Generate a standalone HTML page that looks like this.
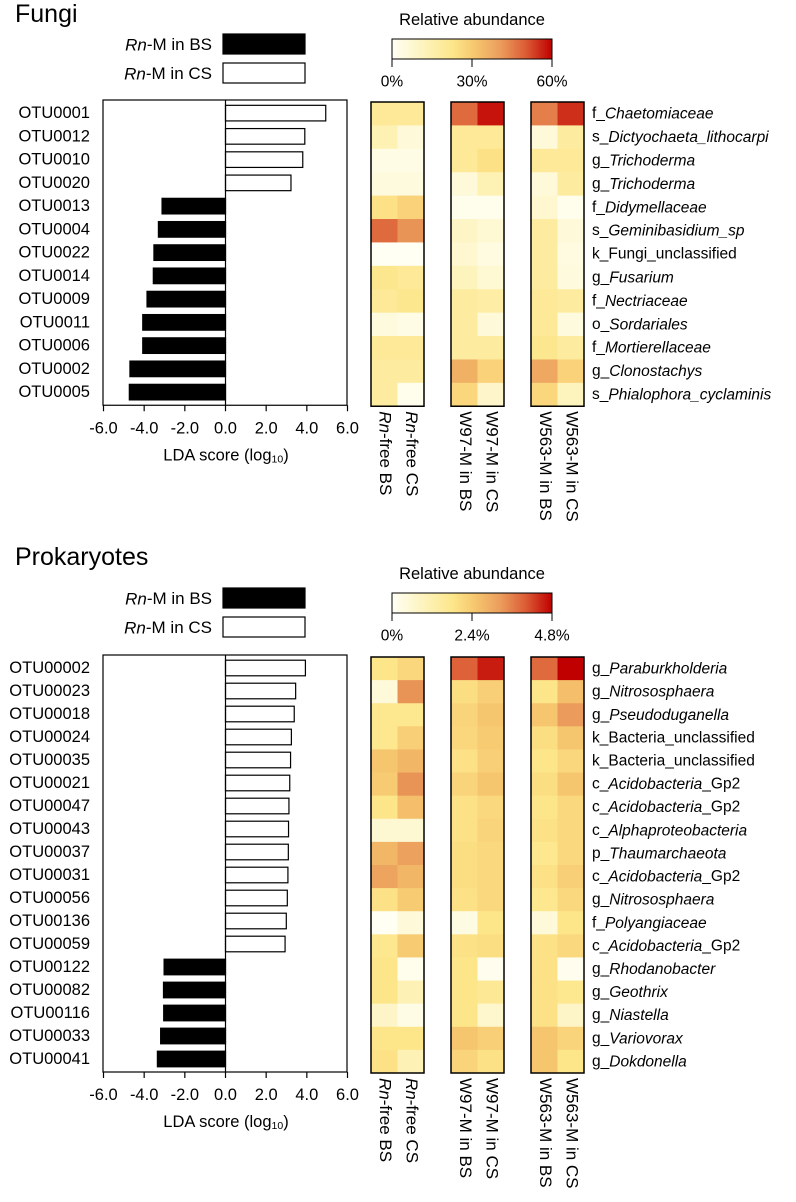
<!DOCTYPE html>
<html><head><meta charset="utf-8"><style>
html,body{margin:0;padding:0;background:#fff}
svg{display:block;font-family:"Liberation Sans",Arial,sans-serif}
</style></head><body>
<svg id="fig" width="796" height="1202" viewBox="0 0 796 1202" xmlns="http://www.w3.org/2000/svg">
<defs>
<linearGradient id="cgrad" x1="0" x2="1" y1="0" y2="0">
<stop offset="0" stop-color="#fffff4"/><stop offset="0.2" stop-color="#fdf3bc"/><stop offset="0.38" stop-color="#fde68a"/><stop offset="0.52" stop-color="#f6c66e"/><stop offset="0.68" stop-color="#eb9c5c"/><stop offset="0.84" stop-color="#db5a34"/><stop offset="1" stop-color="#c00000"/>
</linearGradient>
</defs>
</svg>
<script>
// ---------- data ----------
const fungiOtus = ["OTU0001","OTU0012","OTU0010","OTU0020","OTU0013","OTU0004","OTU0022","OTU0014","OTU0009","OTU0011","OTU0006","OTU0002","OTU0005"];
const fungiLda = [4.93,3.9,3.8,3.22,-3.12,-3.3,-3.52,-3.55,-3.86,-4.07,-4.07,-4.7,-4.73];
const fungiTaxa = [["f_","Chaetomiaceae",""],["s_","Dictyochaeta_lithocarpi",""],["g_","Trichoderma",""],["g_","Trichoderma",""],["f_","Didymellaceae",""],["s_","Geminibasidium_sp",""],["k_Fungi_unclassified","",""],["g_","Fusarium",""],["f_","Nectriaceae",""],["o_","Sordariales",""],["f_","Mortierellaceae",""],["g_","Clonostachys",""],["s_","Phialophora_cyclaminis",""]];
const fungiAbund = [
[20,20,48,58,45,55],[14,6,20,20,6,18],[3,3,20,24,20,20],[5,5,6,14,6,18],[24,28,2,2,8,2],[48,42,10,7,18,6],[0,0,8,4,18,4],[22,20,12,7,18,5],[20,22,18,17,20,18],[5,3,18,6,20,5],[20,20,18,18,22,18],[18,18,36,28,38,28],[18,2,27,9,27,12]];
const fungiScaleMax = 60;
const fungiTicks = ["0%","30%","60%"];

const prokOtus = ["OTU00002","OTU00023","OTU00018","OTU00024","OTU00035","OTU00021","OTU00047","OTU00043","OTU00037","OTU00031","OTU00056","OTU00136","OTU00059","OTU00122","OTU00082","OTU00116","OTU00033","OTU00041"];
const prokLda = [3.93,3.45,3.38,3.24,3.2,3.16,3.12,3.1,3.09,3.07,3.04,2.99,2.93,-3.02,-3.05,-3.04,-3.19,-3.35];
const prokTaxa = [["g_","Paraburkholderia",""],["g_","Nitrososphaera",""],["g_","Pseudoduganella",""],["k_Bacteria_unclassified","",""],["k_Bacteria_unclassified","",""],["c_","Acidobacteria","_Gp2"],["c_","Acidobacteria","_Gp2"],["c_","Alphaproteobacteria",""],["p_","Thaumarchaeota",""],["c_","Acidobacteria","_Gp2"],["g_","Nitrososphaera",""],["f_","Polyangiaceae",""],["c_","Acidobacteria","_Gp2"],["g_","Rhodanobacter",""],["g_","Geothrix",""],["g_","Niastella",""],["g_","Variovorax",""],["g_","Dokdonella",""]];
const prokAbund = [
[1.82,2.16,3.94,4.56,3.84,4.8],[0.48,3.36,2.02,2.3,1.82,2.64],[1.73,1.73,2.2,2.5,2.5,3.26],[1.73,2.3,2.16,2.4,2.02,2.5],[2.5,2.78,1.92,2.3,1.82,2.16],[2.4,3.36,2.2,2.5,2.02,2.5],[1.82,2.64,1.92,2.11,1.82,2.11],[0.58,0.58,1.92,2.2,1.92,2.11],[2.78,3.17,2.02,2.11,1.73,2.11],[3.12,2.78,2.02,2.11,1.92,2.3],[1.92,2.4,1.92,2.11,1.73,2.11],[0,0.48,0.29,1.82,0.48,1.82],[1.73,2.4,1.92,2.02,1.92,2.11],[1.82,0.14,1.82,0.1,1.92,0.1],[1.82,1.06,1.82,1.63,1.92,1.73],[0.77,0.24,1.82,0.67,1.92,0.77],[1.82,1.82,2.5,2.3,2.5,2.2],[1.92,1.06,2.2,1.92,2.5,1.82]];
const prokScaleMax = 4.8;
const prokTicks = ["0%","2.4%","4.8%"];

const ldaTicks = [-6,-4,-2,0,2,4,6];
const colLabels = [["Rn","-free BS"],["Rn","-free CS"],["","W97-M in BS"],["","W97-M in CS"],["","W563-M in BS"],["","W563-M in CS"]];

// ---------- helpers ----------
const NS="http://www.w3.org/2000/svg";
const svg=document.getElementById('fig');
function mk(tag,attrs,parent){const e=document.createElementNS(NS,tag);for(const k in attrs)e.setAttribute(k,attrs[k]);(parent||svg).appendChild(e);return e;}
const stops=[[0,[255,255,244]],[0.2,[253,243,188]],[0.38,[253,230,138]],[0.52,[246,198,110]],[0.68,[235,156,92]],[0.84,[219,90,52]],[1,[192,0,0]]];
function color(t){t=Math.max(0,Math.min(1,t));for(let i=1;i<stops.length;i++){if(t<=stops[i][0]){const a=stops[i-1],b=stops[i];const f=(t-a[0])/(b[0]-a[0]);const c=a[1].map((v,j)=>Math.round(v+(b[1][j]-v)*f));return `rgb(${c})`;}}return 'rgb(192,0,0)';}

const boxL=103,boxR=347,center=225.5;
const xs=v=>center+v*(boxR-boxL)/12;
const heatX=[371,451,531], cellW=26.5;

function panel(o){
  const g=mk('g',{});
  
  
  const t=mk('text',{x:15,y:o.titleY,'font-size':25,'dominant-baseline':'central'},g);t.textContent=o.title;
  
  
  const leg=[["in BS","#000",o.legY],["in CS","#fff",o.legY+29]];
  leg.forEach((l,i)=>{
    const tx=mk('text',{x:212,y:l[2]+10.5,'font-size':17,'text-anchor':'end','dominant-baseline':'central'},g);
    tx.innerHTML='<tspan font-style="italic">Rn</tspan>-M '+l[0];
    
    
    const r=mk('rect',{x:223,y:l[2],width:82,height:20,fill:l[1],stroke:'#000','stroke-width':1.2},g);
    
    
  });
  const cbY=o.legY+5;
  const ct=mk('text',{x:472,y:cbY-19,'font-size':16.5,'text-anchor':'middle','dominant-baseline':'central'},g);ct.textContent='Relative abundance';
  
  
  const cb=mk('rect',{x:392,y:cbY,width:160,height:20,fill:'url(#cgrad)',stroke:'#000','stroke-width':1},g);
  
  
  o.ticks.forEach((tk,i)=>{
    const x=392+i*80;
    mk('line',{x1:x,x2:x,y1:cbY+20,y2:cbY+28,stroke:'#000','stroke-width':1},g);
    const tl=mk('text',{x:x,y:cbY+43,'font-size':15.5,'text-anchor':'middle','dominant-baseline':'central'},g);tl.textContent=tk;
    
    
  });
  const n=o.otus.length, top=o.boxTop, rh=o.rowH, bottom=top+n*rh+3;
  const frame=mk('rect',{x:boxL,y:top,width:boxR-boxL,height:bottom-top,fill:'none',stroke:'#000','stroke-width':1.2},g);
  
  
  o.lda.forEach((v,i)=>{
    const cy=top+rh*(i+0.5)+1.5;
    const x0=Math.min(xs(0),xs(v)),w=Math.abs(xs(v)-xs(0));
    const b=mk('rect',{x:x0,y:cy-7.8,width:w,height:15.6,fill:v<0?'#000':'#fff',stroke:'#000','stroke-width':1.2},g);
    
    
    const lb=mk('text',{x:90,y:cy,'font-size':16.5,'text-anchor':'end','dominant-baseline':'central'},g);lb.textContent=o.otus[i];
    
    
  });
  mk('line',{x1:xs(0),x2:xs(0),y1:top,y2:bottom,stroke:'#000','stroke-width':1.2},g);
  ldaTicks.forEach(tv=>{
    mk('line',{x1:xs(tv),x2:xs(tv),y1:bottom,y2:bottom+6,stroke:'#000','stroke-width':1.2},g);
    const tl=mk('text',{x:xs(tv),y:bottom+23,'font-size':16.5,'text-anchor':'middle','dominant-baseline':'central'},g);tl.textContent=tv.toFixed(1);
    
    
  });
  const at=mk('text',{x:226,y:bottom+50,'font-size':16.5,'text-anchor':'middle','dominant-baseline':'central'},g);
  at.innerHTML='LDA score (log<tspan font-size="10.5" dy="4">10</tspan><tspan dy="-4">)</tspan>';
  
  
  const hTop=top+2, hBot=hTop+n*rh+2;
  const rh2=(hBot-hTop)/n;
  o.abund.forEach((row,i)=>{
    row.forEach((v,j)=>{
      const gi=Math.floor(j/2), x=heatX[gi]+(j%2)*cellW;
      const c=mk('rect',{x:x,y:hTop+i*rh2,width:cellW+0.5,height:rh2+0.5,fill:color(v/o.max)},g);
      
      
    });
    const tx=mk('text',{x:592,y:hTop+rh2*(i+0.5),'font-size':15.5,'dominant-baseline':'central'},g);
    const tax=o.taxa[i];
    tx.innerHTML=tax[0]+(tax[1]?'<tspan font-style="italic">'+tax[1]+'</tspan>':'')+tax[2];
    
    
  });
  heatX.forEach(x=>{
    const r=mk('rect',{x:x,y:hTop,width:cellW*2,height:hBot-hTop,fill:'none',stroke:'#000','stroke-width':1.5},g);
    
    
  });
  colLabels.forEach((cl,j)=>{
    const gi=Math.floor(j/2), x=heatX[gi]+(j%2)*cellW+cellW/2+1, y=hBot+5;
    const t=mk('text',{x:x,y:y,'font-size':17,'dominant-baseline':'central',transform:`rotate(90 ${x} ${y})`},g);
    t.innerHTML=(cl[0]?'<tspan font-style="italic">'+cl[0]+'</tspan>':'')+cl[1];
    
    
  });
}
panel({key:'fungi',title:'Fungi',titleY:14,legY:34,ticks:fungiTicks,otus:fungiOtus,lda:fungiLda,taxa:fungiTaxa,abund:fungiAbund,max:fungiScaleMax,boxTop:100,rowH:23.25});
panel({key:'prokaryotes',title:'Prokaryotes',titleY:557,legY:588,ticks:prokTicks,otus:prokOtus,lda:prokLda,taxa:prokTaxa,abund:prokAbund,max:prokScaleMax,boxTop:655,rowH:23});
</script>
</body></html>
